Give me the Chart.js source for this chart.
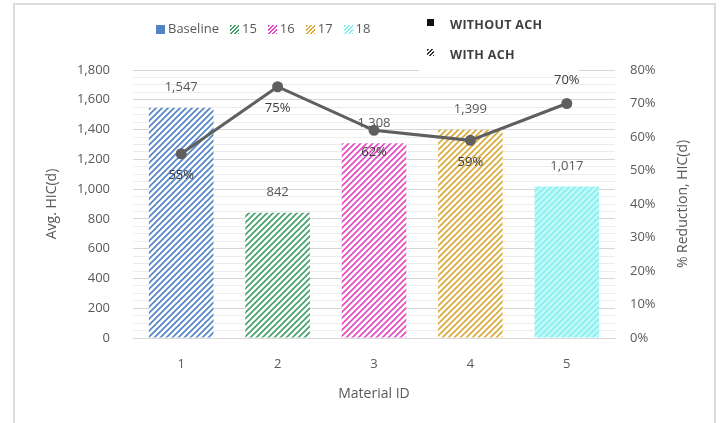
<!DOCTYPE html>
<html>
<head>
<meta charset="utf-8">
<script src="https://cdn.jsdelivr.net/npm/chart.js@4.4.0/dist/chart.umd.min.js"></script>
<style>
  body { margin: 0; background: #fff; font-family: "Open Sans", sans-serif; }
  #wrap { position: relative; width: 720px; height: 423px; overflow: hidden; }
  #frame { position: absolute; left: 13px; top: 3px; width: 699px; height: 440px;
           border: 2px solid #dcdcdc; border-bottom: none; }
  canvas { position: absolute; left: 0; top: 0; }
  .leg { position: absolute; top: 19px; left: 156px; font-size: 13px; color: #595959; white-space: nowrap; }
  .leg span.item { margin-right: 11px; }
  .sw { display: inline-block; width: 9px; height: 9px; margin-right: 3px; vertical-align: -1px; }
  #box { position: absolute; left: 419px; top: 8px; width: 160px; height: 63px; background: #fff; }
  #box div { position: absolute; left: 8px; font-size: 12.5px; font-weight: bold; color: #404040; letter-spacing: 0.3px; }
  #box .sq { display: inline-block; width: 7px; height: 7px; margin-right: 16px; vertical-align: 3px; }
</style>
</head>
<body>
<div id="wrap">
  <canvas id="hicChart" width="720" height="423"></canvas>
  <div id="frame"></div>
  <div class="leg" id="legend"></div>
  <div id="box">
    <div style="top:8px"><span class="sq" style="background:#111"></span>WITHOUT ACH</div>
    <div style="top:38px"><span class="sq" style="background:repeating-linear-gradient(135deg,#333 0 1.5px,#fff 1.5px 3px)"></span>WITH ACH</div>
  </div>
</div>
<script>
var materialIds = ["1", "2", "3", "4", "5"];
var legendNames = ["Baseline", "15", "16", "17", "18"];
var avgHic = [1547, 842, 1308, 1399, 1017];
var reduction = [55, 75, 62, 59, 70];
var barColors = ["#5283c9", "#41a067", "#e447c4", "#d8a936", "#86efef"];
var barBack = ["#ffffff", "#ffffff", "#ffffff", "#ffffff", "#c2f8f8"];

function hatch(fg, bg) {
    var c = document.createElement("canvas");
    c.width = 6; c.height = 6;
    var x = c.getContext("2d");
    x.fillStyle = bg;
    x.fillRect(0, 0, 6, 6);
    x.strokeStyle = fg;
    x.lineWidth = 1.6;
    x.beginPath();
    x.moveTo(-1, 7); x.lineTo(7, -1);
    x.moveTo(-4, 4); x.lineTo(4, -4);
    x.moveTo(2, 10); x.lineTo(10, 2);
    x.stroke();
    return x.createPattern(c, "repeat");
}

var patterns = [];
for (var i = 0; i < barColors.length; i++) {
    patterns.push(hatch(barColors[i], barBack[i]));
}

// html legend
var leg = document.getElementById("legend");
for (var i = 0; i < legendNames.length; i++) {
    var bg = i == 0 ? barColors[0] :
        "repeating-linear-gradient(135deg," + barColors[i] + " 0 1.5px,#fff 1.5px 3px)";
    leg.innerHTML += '<span class="item"><span class="sw" style="background:' + bg + '"></span>' + legendNames[i] + '</span>';
}

var valueLabels = {
    id: "valueLabels",
    afterDatasetsDraw: function(chart) {
        var ctx = chart.ctx;
        ctx.save();
        ctx.font = "13px 'Open Sans'";
        ctx.textAlign = "center";
        ctx.textBaseline = "middle";
        var bars = chart.getDatasetMeta(1).data;
        ctx.fillStyle = "#595959";
        bars.forEach(function(b, i) {
            ctx.fillText(avgHic[i].toLocaleString("en-US"), b.x, b.y - 20);
        });
        var pts = chart.getDatasetMeta(0).data;
        ctx.fillStyle = "#3a3a3a";
        pts.forEach(function(p, i) {
            var dy = i == 4 ? -23 : 22;
            ctx.fillText(reduction[i] + "%", p.x, p.y + dy);
        });
        // right axis title, reading bottom to top
        var a = chart.chartArea;
        ctx.translate(683, (a.top + a.bottom) / 2);
        ctx.rotate(-Math.PI / 2);
        ctx.font = "14px 'Open Sans'";
        ctx.fillStyle = "#595959";
        ctx.fillText("% Reduction, HIC(d)", 0, 0);
        ctx.restore();
    }
};

var tickFont = { family: "'Open Sans'", size: 13 };

new Chart("hicChart", {
    data: {
        labels: materialIds,
        datasets: [{
            type: "line",
            data: reduction,
            yAxisID: "y1",
            borderColor: "#5f5f5f",
            backgroundColor: "#5f5f5f",
            borderWidth: 3,
            pointRadius: 4,
            tension: 0
        }, {
            type: "bar",
            data: avgHic,
            yAxisID: "y",
            backgroundColor: patterns,
            categoryPercentage: 1,
            barPercentage: 0.67
        }]
    },
    options: {
        responsive: false,
        animation: false,
        layout: { padding: { left: 14, right: 5, top: 70, bottom: 14 } },
        plugins: { legend: { display: false }, tooltip: { enabled: false } },
        scales: {
            x: {
                grid: { display: false, drawTicks: false },
                border: { color: "#d9d9d9" },
                ticks: { color: "#595959", font: tickFont, padding: 18 },
                title: { display: true, text: "Material ID", color: "#595959",
                         font: { family: "'Open Sans'", size: 14 }, padding: { top: 6, bottom: 7 } },
                afterFit: function(s) { s.height = 71; }
            },
            y: {
                position: "left",
                min: 0, max: 1800,
                border: { display: false },
                grid: {
                    drawTicks: false,
                    color: function(c) { return c.tick.value % 200 == 0 ? "#d6d6d6" : "#ececec"; }
                },
                ticks: {
                    stepSize: 50, autoSkip: false, color: "#595959", font: tickFont, padding: 23,
                    callback: function(v) { return v % 200 == 0 ? v.toLocaleString("en-US") : ""; }
                },
                title: { display: true, text: "Avg. HIC(d)", color: "#595959",
                         font: { family: "'Open Sans'", size: 14 }, padding: { top: 30, bottom: 0 } },
                afterFit: function(s) { s.width = 119; }
            },
            y1: {
                position: "right",
                min: 0, max: 80,
                border: { display: false },
                grid: { display: false, drawTicks: false },
                ticks: {
                    stepSize: 10, color: "#595959", font: tickFont, padding: 15,
                    callback: function(v) { return v + "%"; }
                },
                afterFit: function(s) { s.width = 100; }
            }
        }
    },
    plugins: [valueLabels]
});
</script>
</body>
</html>
